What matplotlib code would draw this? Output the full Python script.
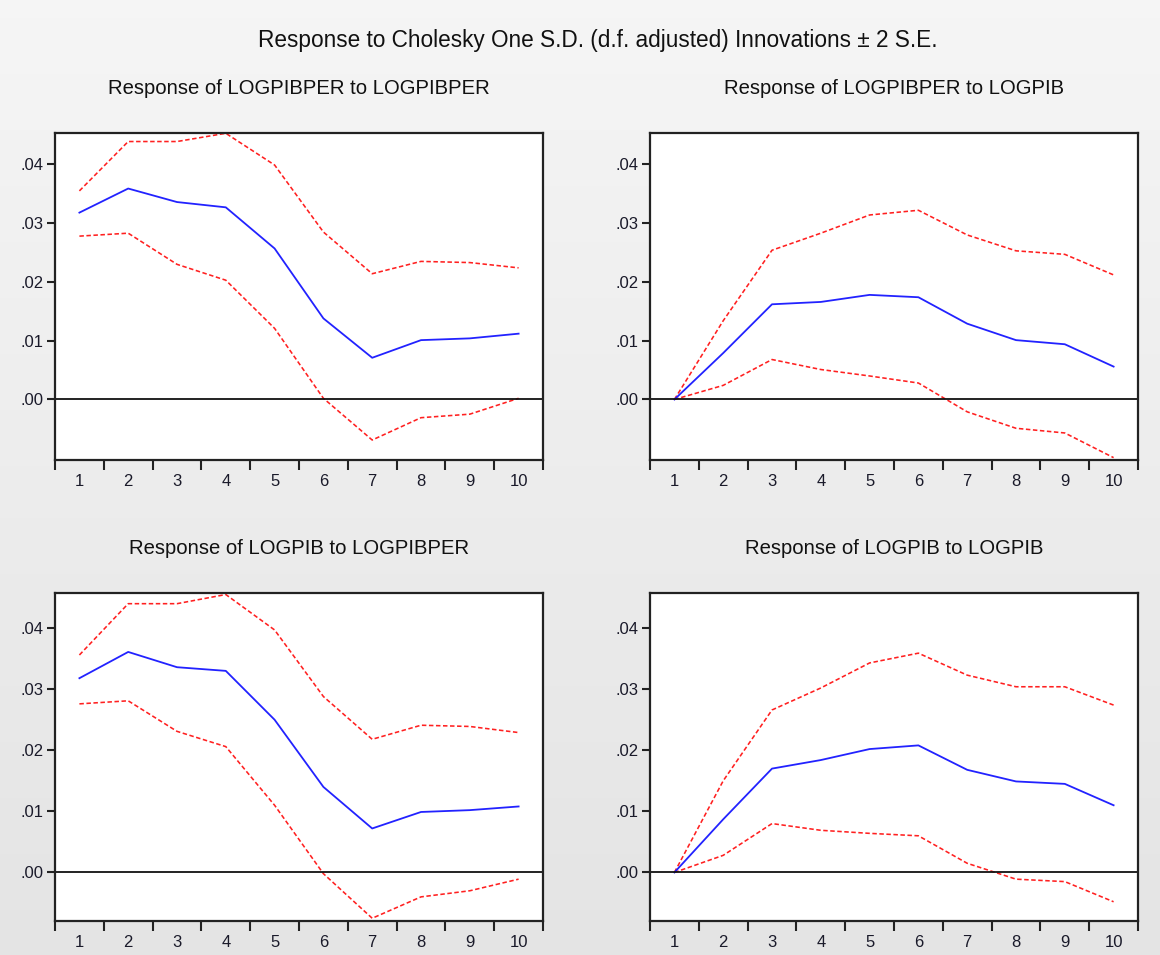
import numpy as np
import matplotlib
matplotlib.use("Agg")
import matplotlib.pyplot as plt
from matplotlib.ticker import FixedLocator, FuncFormatter

plt.rcParams['font.family'] = ['Liberation Sans', 'DejaVu Sans']

periods = [1, 2, 3, 4, 5, 6, 7, 8, 9, 10]

main_title = "Response to Cholesky One S.D. (d.f. adjusted) Innovations \u00b1 2 S.E."
titles = [
    "Response of LOGPIBPER to LOGPIBPER",
    "Response of LOGPIBPER to LOGPIB",
    "Response of LOGPIB to LOGPIBPER",
    "Response of LOGPIB to LOGPIB",
]

# Panel 1: LOGPIBPER to LOGPIBPER
p1_resp = [0.0318, 0.0359, 0.0336, 0.0327, 0.0257, 0.0138, 0.0071, 0.0101, 0.0104, 0.0112]
p1_upper = [0.0355, 0.0439, 0.0439, 0.0453, 0.0399, 0.0285, 0.0214, 0.0235, 0.0233, 0.0224]
p1_lower = [0.0278, 0.0283, 0.0230, 0.0203, 0.0121, 0.0002, -0.0069, -0.0031, -0.0025, 0.0002]

# Panel 2: LOGPIBPER to LOGPIB
p2_resp = [0.0, 0.0079, 0.0162, 0.0166, 0.0178, 0.0174, 0.0129, 0.0101, 0.0094, 0.0056]
p2_upper = [0.0, 0.0134, 0.0254, 0.0283, 0.0314, 0.0322, 0.0280, 0.0253, 0.0247, 0.0212]
p2_lower = [0.0, 0.0024, 0.0068, 0.0051, 0.0040, 0.0028, -0.0021, -0.0049, -0.0057, -0.0099]

# Panel 3: LOGPIB to LOGPIBPER
p3_resp = [0.0318, 0.0361, 0.0336, 0.0330, 0.0250, 0.0140, 0.0072, 0.0099, 0.0102, 0.0108]
p3_upper = [0.0356, 0.0440, 0.0440, 0.0455, 0.0397, 0.0288, 0.0218, 0.0241, 0.0239, 0.0229]
p3_lower = [0.0276, 0.0281, 0.0231, 0.0206, 0.0110, -0.0002, -0.0075, -0.0040, -0.0030, -0.0011]

# Panel 4: LOGPIB to LOGPIB
p4_resp = [0.0, 0.0087, 0.0170, 0.0184, 0.0202, 0.0208, 0.0168, 0.0149, 0.0145, 0.0110]
p4_upper = [0.0, 0.0150, 0.0266, 0.0302, 0.0343, 0.0359, 0.0323, 0.0304, 0.0304, 0.0274]
p4_lower = [0.0, 0.0028, 0.0080, 0.0069, 0.0064, 0.0060, 0.0015, -0.0011, -0.0015, -0.0048]

yticks = [0.0, 0.01, 0.02, 0.03, 0.04]

panels = [
    (p1_resp, p1_upper, p1_lower),
    (p2_resp, p2_upper, p2_lower),
    (p3_resp, p3_upper, p3_lower),
    (p4_resp, p4_upper, p4_lower),
]

W, H = 1160, 955
fig = plt.figure(figsize=(W / 100, H / 100), dpi=100)

# gradient background
bg = fig.add_axes([0, 0, 1, 1], zorder=-10)
grad = np.linspace(0.962, 0.895, 256).reshape(-1, 1)
bg.imshow(np.dstack([grad, grad, grad]), aspect='auto', extent=[0, 1, 0, 1])
bg.set_axis_off()

# axes boxes in pixels: (left, top, right, bottom)
boxes = [
    (55, 133.3, 543, 460),
    (650, 133.3, 1138, 460),
    (55, 593.3, 543, 920.7),
    (650, 593.3, 1138, 920.7),
]
ylims = [(-0.0103, 0.0453), (-0.0103, 0.0453), (-0.0079, 0.0457), (-0.0079, 0.0457)]
title_y = [88, 88, 549, 549]

def fmt(v, pos):
    s = "%.2f" % v
    return s[1:] if s.startswith("0") else s

for i, (resp, up, lo) in enumerate(panels):
    l, t, r, b = boxes[i]
    ax = fig.add_axes([l / W, 1 - b / H, (r - l) / W, (b - t) / H])
    ax.set_facecolor('white')
    ax.plot(periods, up, color='#ff2020', lw=1.15, dashes=(2.8, 1.6))
    ax.plot(periods, lo, color='#ff2020', lw=1.15, dashes=(2.8, 1.6))
    ax.plot(periods, resp, color='#2222ff', lw=1.3)
    ax.axhline(0, color='#111111', lw=1.3)
    ax.set_xlim(0.5, 10.5)
    ax.set_ylim(*ylims[i])
    ax.xaxis.set_major_locator(FixedLocator(periods))
    ax.xaxis.set_minor_locator(FixedLocator([k + 0.5 for k in range(0, 11)]))
    ax.tick_params(axis='x', which='major', length=0, pad=10, labelsize=12, labelcolor='#1a1a2a')
    ax.tick_params(axis='x', which='minor', length=7, width=1.5, color='#222222', direction='out')
    ax.yaxis.set_major_locator(FixedLocator(yticks))
    ax.yaxis.set_major_formatter(FuncFormatter(fmt))
    ax.tick_params(axis='y', which='major', length=6, width=1.5, color='#222222', pad=2,
                   labelsize=12, labelcolor='#1a1a2a', direction='out')
    for sp in ax.spines.values():
        sp.set_linewidth(1.6)
        sp.set_color('#222222')
    cx = (l + r) / 2
    fig.text(cx / W, 1 - title_y[i] / H, titles[i], ha='center', va='center',
             fontsize=14.6, color='#111111')

fig.text(598 / W, 1 - 41 / H, main_title, ha='center', va='center', fontsize=16.3, color='#111111')

fig.savefig("out.png", dpi=100)
